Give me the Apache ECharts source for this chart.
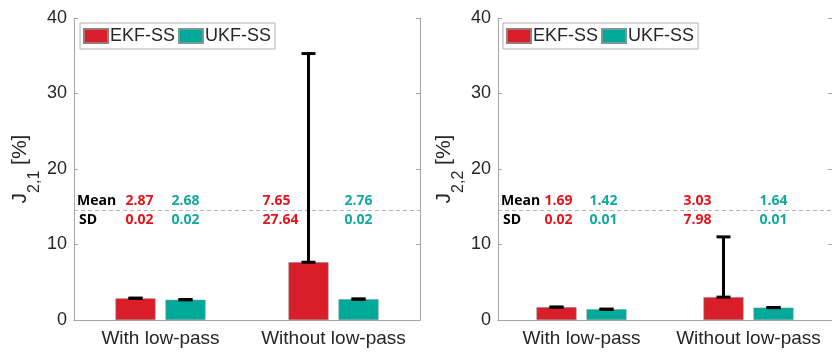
<!DOCTYPE html>
<html><head><meta charset="utf-8">
<script src="https://cdn.jsdelivr.net/npm/echarts@6/dist/echarts.min.js"></script>
<style>html,body{margin:0;padding:0;background:#fff}#c{width:832px;height:352px}</style>
</head><body><div id="c"></div>
<script>
// ---- data ----
const categories = ['With low-pass', 'Without low-pass'];
const seriesNames = ['EKF-SS', 'UKF-SS'];
const j21MeanEKF = [2.87, 7.65];
const j21SdEKF   = [0.02, 27.64];
const j21MeanUKF = [2.68, 2.76];
const j21SdUKF   = [0.02, 0.02];
const j22MeanEKF = [1.69, 3.03];
const j22SdEKF   = [0.02, 7.98];
const j22MeanUKF = [1.42, 1.64];
const j22SdUKF   = [0.01, 0.01];
const yMin = 0, yMax = 40, yInterval = 10;
const separatorValue = 14.5;

// ---- style / layout ----
const RED = '#D91E2A', TEAL = '#00A99A';
const RED_TXT = '#E5131D', TEAL_TXT = '#13A99B';
const AX = '#a6a6a6', TXT = '#262626';
const FONT = '"Liberation Sans", Arial, sans-serif';
const BAR_W = 40, BAR_GAP_PX = 10;
const OFF = (BAR_W + BAR_GAP_PX) / 2;
// text x offsets (px) from category centre, per category
const annDxLeftEKF = [-35, -71], annDxLeftUKF = [11, 11];
const annDxRightEKF = [-37, -65], annDxRightUKF = [8, 11];

function triples(means, sds) { return means.map((m, i) => [i, m, sds[i]]); }

function errRender(dx) {
  return function (params, api) {
    const c = api.value(0), m = api.value(1), s = api.value(2);
    const p0 = api.coord([c, m]), p1 = api.coord([c, m + s]);
    const x = p0[0] + dx, hw = 7;
    const st = { stroke: '#000', lineWidth: 3 };
    return { type: 'group', children: [
      { type: 'line', shape: { x1: x, y1: p0[1], x2: x, y2: p1[1] }, style: st },
      { type: 'line', shape: { x1: x - hw, y1: p0[1], x2: x + hw, y2: p0[1] }, style: st },
      { type: 'line', shape: { x1: x - hw, y1: p1[1], x2: x + hw, y2: p1[1] }, style: st }
    ]};
  };
}

function annRender(dxList, color, withLabels) {
  return function (params, api) {
    const c = api.value(0), m = api.value(1), s = api.value(2);
    const pt = api.coord([c, separatorValue]);
    const x = pt[0] + dxList[c];
    const f = 'bold 14px "Open Sans", sans-serif';
    const ch = [
      { type: 'text', style: { text: m.toFixed(2), x: x, y: pt[1] - 10, fill: color, font: f, align: 'left', verticalAlign: 'middle' } },
      { type: 'text', style: { text: s.toFixed(2), x: x, y: pt[1] + 9, fill: color, font: f, align: 'left', verticalAlign: 'middle' } }
    ];
    if (withLabels && c === 0) {
      const gx = params.coordSys.x;
      ch.push({ type: 'text', style: { text: 'Mean', x: gx + 3, y: pt[1] - 10, fill: '#000', font: f, align: 'left', verticalAlign: 'middle' } });
      ch.push({ type: 'text', style: { text: 'SD', x: gx + 5, y: pt[1] + 9, fill: '#000', font: f, align: 'left', verticalAlign: 'middle' } });
    }
    return { type: 'group', children: ch };
  };
}

function xAxes(gi) {
  return [
    { type: 'category', gridIndex: gi, data: categories, position: 'bottom',
      axisLine: { lineStyle: { color: AX, width: 1 } },
      axisTick: { inside: true, alignWithLabel: true, length: 4, lineStyle: { color: AX } },
      axisLabel: { interval: 0, fontFamily: FONT, fontSize: 19, color: TXT, margin: 9 } },
    { type: 'category', gridIndex: gi, data: categories, position: 'top',
      axisLine: { lineStyle: { color: AX, width: 1 } },
      axisTick: { inside: true, alignWithLabel: true, length: 4, lineStyle: { color: AX } },
      axisLabel: { show: false } }
  ];
}
function yAxes(gi, sub) {
  return [
    { type: 'value', gridIndex: gi, min: yMin, max: yMax, interval: yInterval, position: 'left',
      splitLine: { show: false },
      axisLine: { show: true, lineStyle: { color: AX, width: 1 } },
      axisTick: { show: true, inside: true, length: 4, lineStyle: { color: AX } },
      axisLabel: { fontFamily: FONT, fontSize: 18, color: TXT, margin: 7 },
      name: '{j|J}{s|' + sub + '}{p| [%]}', nameLocation: 'middle', nameGap: 10,
      nameTextStyle: { fontFamily: FONT, color: TXT,
        rich: {
          j: { fontFamily: FONT, fontSize: 21, lineHeight: 21, verticalAlign: 'top', color: TXT },
          p: { fontFamily: FONT, fontSize: 21, lineHeight: 21, verticalAlign: 'top', color: TXT },
          s: { fontFamily: FONT, fontSize: 16, lineHeight: 50, verticalAlign: 'middle', color: TXT }
        } } },
    { type: 'value', gridIndex: gi, min: yMin, max: yMax, interval: yInterval, position: 'right',
      splitLine: { show: false },
      axisLine: { show: true, lineStyle: { color: AX, width: 1 } },
      axisTick: { show: true, inside: true, length: 4, lineStyle: { color: AX } },
      axisLabel: { show: false } }
  ];
}

function panelSeries(gi, meanE, sdE, meanU, sdU, dxE, dxU) {
  const xi = gi * 2, yi = gi * 2;
  return [
    { name: seriesNames[0], type: 'bar', xAxisIndex: xi, yAxisIndex: yi, data: meanE,
      barWidth: BAR_W, barGap: (BAR_GAP_PX / BAR_W * 100) + '%',
      itemStyle: { color: RED, borderColor: '#9a7a7a', borderWidth: 0.6 },
      markLine: { silent: true, symbol: 'none', label: { show: false },
        lineStyle: { color: '#b4b4b4', type: [4, 3], width: 1 },
        data: [{ yAxis: separatorValue }] } },
    { name: seriesNames[1], type: 'bar', xAxisIndex: xi, yAxisIndex: yi, data: meanU,
      barWidth: BAR_W, barGap: (BAR_GAP_PX / BAR_W * 100) + '%',
      itemStyle: { color: TEAL, borderColor: '#7a9a96', borderWidth: 0.6 } },
    { type: 'custom', xAxisIndex: xi, yAxisIndex: yi, data: triples(meanE, sdE), renderItem: errRender(-OFF), z: 5, silent: true },
    { type: 'custom', xAxisIndex: xi, yAxisIndex: yi, data: triples(meanU, sdU), renderItem: errRender(OFF), z: 5, silent: true },
    { type: 'custom', xAxisIndex: xi, yAxisIndex: yi, data: triples(meanE, sdE), renderItem: annRender(dxE, RED_TXT, true), z: 6, silent: true },
    { type: 'custom', xAxisIndex: xi, yAxisIndex: yi, data: triples(meanU, sdU), renderItem: annRender(dxU, TEAL_TXT, false), z: 6, silent: true }
  ];
}

function legendAt(left) {
  return { left: left, top: 23, orient: 'horizontal', data: seriesNames,
    itemWidth: 24, itemHeight: 14, itemGap: 3, icon: 'rect',
    padding: [4, 4, 4, 3], borderColor: '#b0b0b0', borderWidth: 1, backgroundColor: '#fff',
    textStyle: { fontFamily: FONT, fontSize: 18, color: TXT, padding: [0, 0, 0, -3] },
    selectedMode: false };
}

const chart = echarts.init(document.getElementById('c'), null, { renderer: 'canvas' });
chart.setOption({
  animation: false,
  backgroundColor: '#fff',
  grid: [
    { left: 74, top: 18, width: 346, bottom: 32 },
    { left: 498, top: 18, width: 347, bottom: 32 }
  ],
  xAxis: [...xAxes(0), ...xAxes(1)],
  yAxis: [...yAxes(0, '2,1'), ...yAxes(1, '2,2')],
  legend: [legendAt(80), legendAt(503)],
  series: [
    ...panelSeries(0, j21MeanEKF, j21SdEKF, j21MeanUKF, j21SdUKF, annDxLeftEKF, annDxLeftUKF),
    ...panelSeries(1, j22MeanEKF, j22SdEKF, j22MeanUKF, j22SdUKF, annDxRightEKF, annDxRightUKF)
  ]
});
</script></body></html>
